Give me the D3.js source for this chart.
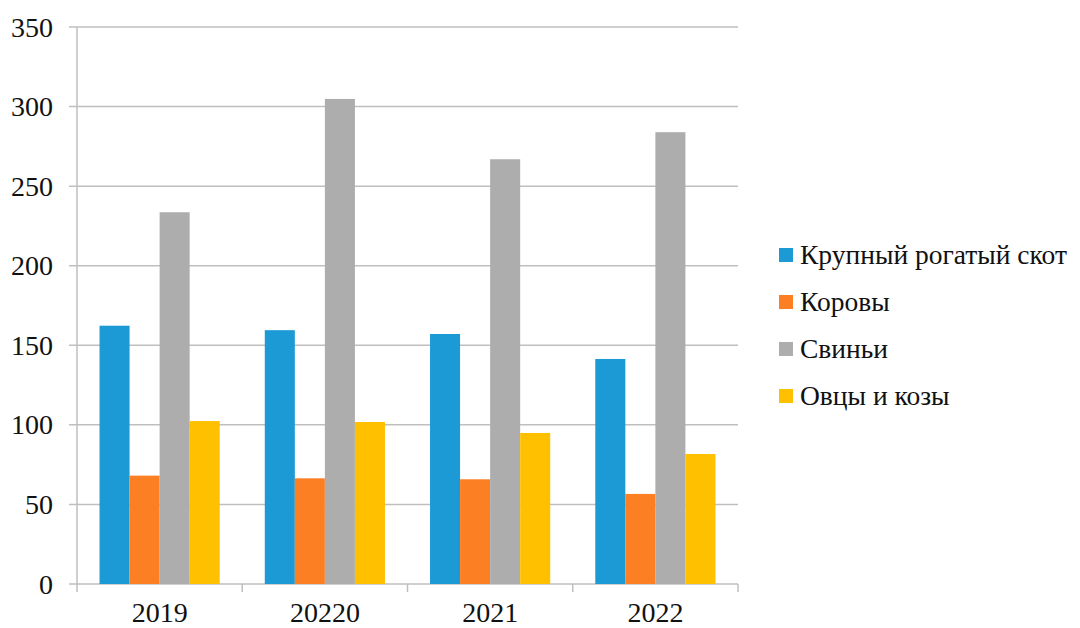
<!DOCTYPE html>
<html><head><meta charset="utf-8">
<script src="https://cdn.jsdelivr.net/npm/d3@7"></script>
<style>body{margin:0;background:#fff}svg{display:block}</style>
</head><body>
<svg id="c" width="1080" height="628"></svg>
<script>
const categories = ["2019", "20220", "2021", "2022"];
const seriesNames = ["Крупный рогатый скот", "Коровы", "Свиньи", "Овцы и козы"];
const cattle = [162.3, 159.5, 157.1, 141.4];
const cows = [68.1, 66.4, 65.8, 56.6];
const pigs = [233.6, 304.8, 266.9, 283.9];
const sheepGoats = [102.4, 101.8, 94.9, 81.7];
const yTicks = [0, 50, 100, 150, 200, 250, 300, 350];
const colors = ["#1b9ad6", "#fd7f23", "#adadad", "#ffc000"];

(function () {
const series = [cattle, cows, pigs, sheepGoats];
const svg = d3.select("#c");
const FONT = '"Liberation Serif"';
const pL = 77, pR = 738, pT = 27, pB = 584;

const x = d3.scaleBand().domain(categories).range([pL, pR]).paddingInner(0).paddingOuter(0);
const y = d3.scaleLinear().domain([0, 350]).range([pB, pT]);
const inner = d3.scaleBand().domain(d3.range(4)).range([0, x.bandwidth()]).paddingInner(0).paddingOuter(0.75);

svg.append("g").selectAll("line").data(yTicks).join("line")
  .attr("x1", pL - 8).attr("x2", pR)
  .attr("y1", d => y(d)).attr("y2", d => y(d))
  .attr("stroke", "#bfbfbf").attr("stroke-width", 1.5);

svg.append("line").attr("x1", pL).attr("x2", pL).attr("y1", pT).attr("y2", pB + 8)
  .attr("stroke", "#bfbfbf").attr("stroke-width", 1.5);
const bounds = categories.map(c => x(c)).concat([pR]);
svg.append("g").selectAll("line").data(bounds.slice(1)).join("line")
  .attr("x1", d => d).attr("x2", d => d).attr("y1", pB).attr("y2", pB + 8)
  .attr("stroke", "#bfbfbf").attr("stroke-width", 1.5);

series.forEach((vals, si) => {
  svg.append("g").selectAll("rect").data(vals).join("rect")
    .attr("x", (d, i) => x(categories[i]) + inner(si))
    .attr("width", inner.bandwidth())
    .attr("y", d => y(d))
    .attr("height", d => y(0) - y(d))
    .attr("fill", colors[si]);
});

svg.append("g").selectAll("text").data(yTicks).join("text")
  .attr("x", 53).attr("y", d => y(d) + 9.5)
  .attr("text-anchor", "end").style("font-family", FONT).attr("font-size", 28)
  .attr("fill", "#111").text(d => d);

svg.append("g").selectAll("text").data(categories).join("text")
  .attr("x", d => x(d) + x.bandwidth() / 2).attr("y", 622)
  .attr("text-anchor", "middle").style("font-family", FONT).attr("font-size", 28)
  .attr("fill", "#111").text(d => d);

const lg = svg.append("g").selectAll("g").data(seriesNames).join("g")
  .attr("transform", (d, i) => `translate(779,${255 + i * 47})`);
lg.append("rect").attr("x", 0).attr("y", -7).attr("width", 14).attr("height", 14)
  .attr("fill", (d, i) => colors[i]);
lg.append("text").attr("x", 21).attr("y", 9)
  .style("font-family", FONT).attr("font-size", 27.5).attr("fill", "#111").text(d => d);
})();
</script>
</body></html>
